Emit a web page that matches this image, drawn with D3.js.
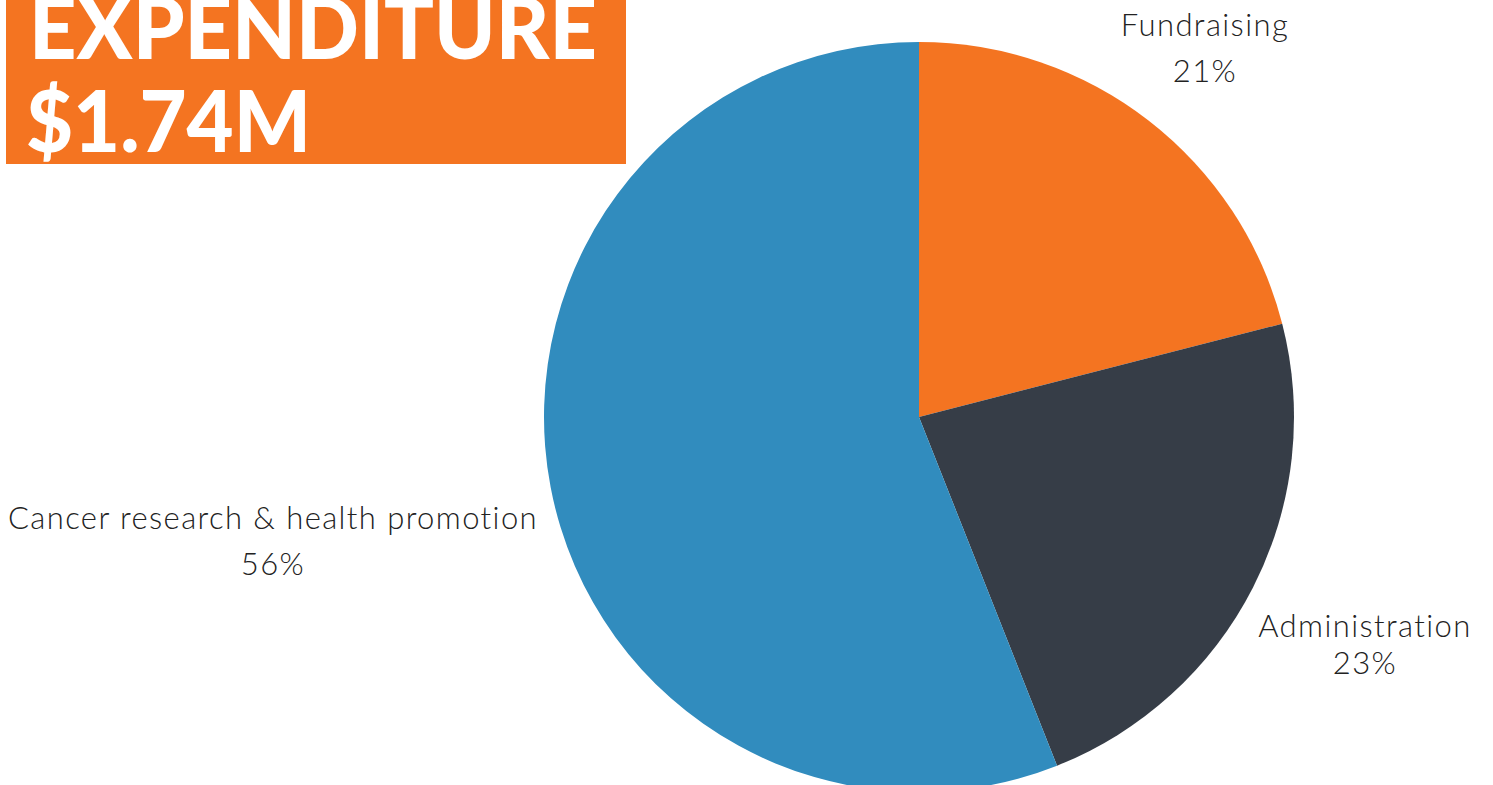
<!DOCTYPE html>
<html>
<head>
<meta charset="utf-8">
<script src="https://cdn.jsdelivr.net/npm/d3@7"></script>
<style>
  html, body { margin: 0; padding: 0; background: #fff; }
  svg { display: block; }
  text { font-variant-ligatures: none; }
</style>
</head>
<body>
<script>
// expenditure breakdown, clockwise from 12 o'clock
var categories = ["Fundraising", "Administration", "Cancer research & health promotion"];
var shares = [21, 23, 56];
var colours = ["#F47421", "#363D47", "#318CBE"];
var titleLines = ["EXPENDITURE", "$1.74M"];

var w = 1493, h = 785;
var cx = 919, cy = 417, radius = 375;

var svg = d3.select("body").append("svg")
  .attr("width", w)
  .attr("height", h);

// title block (top line is cropped by the page edge, as in the original)
svg.append("rect")
  .attr("x", 6).attr("y", 0)
  .attr("width", 620).attr("height", 164)
  .attr("fill", "#F47421");

svg.append("text")
  .attr("x", 29).attr("y", 59)
  .attr("textLength", 568).attr("lengthAdjust", "spacingAndGlyphs")
  .style("font-family", "Lato").style("font-weight", 900)
  .style("font-size", "86px").style("fill", "#fff")
  .text(titleLines[0]);

svg.append("text")
  .attr("x", 26).attr("y", 152)
  .attr("textLength", 285).attr("lengthAdjust", "spacingAndGlyphs")
  .style("font-family", "Lato").style("font-weight", 900)
  .style("font-size", "86px").style("fill", "#fff")
  .text(titleLines[1]);

// pie
var pie = d3.pie().sort(null).value(function(d) { return d; });
var arc = d3.arc().innerRadius(0).outerRadius(radius);
var colour = d3.scaleOrdinal().domain(categories).range(colours);

var g = svg.append("g").attr("transform", "translate(" + cx + "," + cy + ")");
g.selectAll("path")
  .data(pie(shares))
  .enter()
  .append("path")
  .attr("d", arc)
  .attr("fill", function(d, i) { return colour(categories[i]); });

// labels (outside the pie, placed like the original)
var labelPos = [
  { x: 1205, y: 36, gap: 46 },
  { x: 1365, y: 637, gap: 37 },
  { x: 273, y: 529, gap: 46 }
];

var labels = svg.selectAll("g.label")
  .data(categories)
  .enter()
  .append("g")
  .attr("class", "label");

function labelStyle(sel) {
  sel.attr("text-anchor", "middle")
    .style("font-family", "Lato").style("font-weight", 300)
    .style("font-size", "31px").style("letter-spacing", "1.4px")
    .style("fill", "#222");
}

labels.append("text")
  .attr("x", function(d, i) { return labelPos[i].x; })
  .attr("y", function(d, i) { return labelPos[i].y; })
  .call(labelStyle)
  .text(function(d) { return d; });

labels.append("text")
  .attr("x", function(d, i) { return labelPos[i].x; })
  .attr("y", function(d, i) { return labelPos[i].y + labelPos[i].gap; })
  .call(labelStyle)
  .text(function(d, i) { return shares[i] + "%"; });
</script>
</body>
</html>
